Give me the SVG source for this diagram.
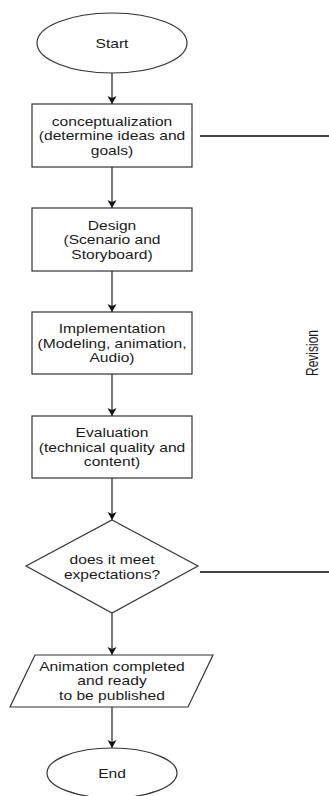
<svg xmlns="http://www.w3.org/2000/svg" width="329" height="796" viewBox="0 0 329 796">
<style>
.shape{fill:#fff;stroke:#333;stroke-width:1.2}
.lbl{font-family:"Liberation Sans",Arial,sans-serif;font-size:12px;fill:#1a1a1a;text-anchor:middle}
.edge{fill:none;stroke:#333;stroke-width:1.3}
.side{fill:none;stroke:#444;stroke-width:2}
</style>
<defs>
<marker id="arr" markerUnits="userSpaceOnUse" markerWidth="10" markerHeight="10" refX="8" refY="4.5" orient="auto">
<path d="M0,0 L8,4.5 L0,9 L2,4.5 Z" fill="#111"/>
</marker>
</defs>
<rect width="329" height="796" fill="#fff"/>
<g id="edges">
<line class="edge" x1="112" y1="73" x2="112" y2="104" marker-end="url(#arr)"/>
<line class="edge" x1="112" y1="167" x2="112" y2="208" marker-end="url(#arr)"/>
<line class="edge" x1="112" y1="271" x2="112" y2="312" marker-end="url(#arr)"/>
<line class="edge" x1="112" y1="374" x2="112" y2="416" marker-end="url(#arr)"/>
<line class="edge" x1="112" y1="478" x2="112" y2="520" marker-end="url(#arr)"/>
<line class="edge" x1="112" y1="613" x2="112" y2="655" marker-end="url(#arr)"/>
<line class="edge" x1="112" y1="707" x2="112" y2="748" marker-end="url(#arr)"/>
<line class="side" x1="200" y1="136" x2="329" y2="136"/>
<line class="side" x1="200" y1="572" x2="329" y2="572"/>
<text class="lbl" transform="translate(318,353) scale(1.3,1) rotate(-90)">Revision</text>
</g>
<g id="start">
<ellipse class="shape" cx="112" cy="43" rx="75" ry="30"/>
<text class="lbl" transform="matrix(1.3 0 0 1 112 47.5)">Start</text>
</g>
<g id="concept">
<rect class="shape" x="32" y="104" width="160" height="63"/>
<text class="lbl" transform="matrix(1.3 0 0 1 112 0)"><tspan x="0" y="126">conceptualization</tspan><tspan x="0" y="140.5">(determine ideas and</tspan><tspan x="0" y="155">goals)</tspan></text>
</g>
<g id="design">
<rect class="shape" x="32" y="208" width="160" height="63"/>
<text class="lbl" transform="matrix(1.3 0 0 1 112 0)"><tspan x="0" y="230">Design</tspan><tspan x="0" y="244.5">(Scenario and</tspan><tspan x="0" y="259">Storyboard)</tspan></text>
</g>
<g id="implementation">
<rect class="shape" x="32" y="312" width="160" height="62"/>
<text class="lbl" transform="matrix(1.3 0 0 1 112 0)"><tspan x="0" y="333.5">Implementation</tspan><tspan x="0" y="348">(Modeling, animation,</tspan><tspan x="0" y="362.5">Audio)</tspan></text>
</g>
<g id="evaluation">
<rect class="shape" x="32" y="416" width="160" height="62"/>
<text class="lbl" transform="matrix(1.3 0 0 1 112 0)"><tspan x="0" y="437.5">Evaluation</tspan><tspan x="0" y="452">(technical quality and</tspan><tspan x="0" y="466.5">content)</tspan></text>
</g>
<g id="decision">
<polygon class="shape" points="112,520 198,566 112,613 26,566"/>
<text class="lbl" transform="matrix(1.3 0 0 1 112 0)"><tspan x="0" y="564">does it meet</tspan><tspan x="0" y="579">expectations?</tspan></text>
</g>
<g id="published">
<polygon class="shape" points="35,655 213,655 188,707 10,707"/>
<text class="lbl" transform="matrix(1.3 0 0 1 112 0)"><tspan x="0" y="671">Animation completed</tspan><tspan x="0" y="685.5">and ready</tspan><tspan x="0" y="700">to be published</tspan></text>
</g>
<g id="end">
<ellipse class="shape" cx="112" cy="773" rx="65" ry="25"/>
<text class="lbl" transform="matrix(1.3 0 0 1 112 777.5)">End</text>
</g>
</svg>
